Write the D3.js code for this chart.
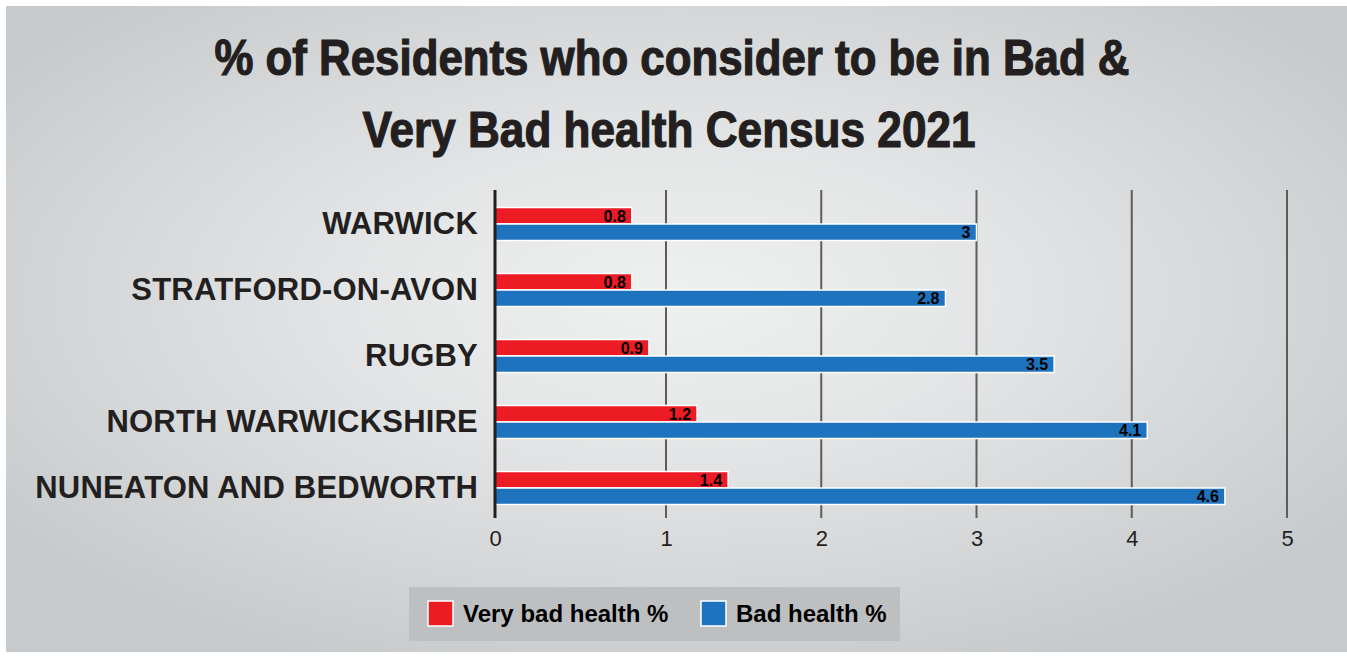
<!DOCTYPE html>
<html>
<head>
<meta charset="utf-8">
<script src="https://cdn.jsdelivr.net/npm/d3@7"></script>
<style>
  html, body { margin: 0; padding: 0; background: #ffffff; }
  svg { display: block; }
</style>
</head>
<body>
<div id="chart"></div>
<script>
const categories = ["WARWICK", "STRATFORD-ON-AVON", "RUGBY", "NORTH WARWICKSHIRE", "NUNEATON AND BEDWORTH"];
const veryBadHealth = [0.8, 0.8, 0.9, 1.2, 1.4];
const badHealth = [3, 2.8, 3.5, 4.1, 4.6];
const seriesNames = ["Very bad health %", "Bad health %"];
const tickValues = [0, 1, 2, 3, 4, 5];
const titleLines = ["% of Residents who consider to be in Bad &", "Very Bad health Census 2021"];

const width = 1347, height = 657;
const colors = ["#ed1c24", "#1e73be"];
const ink = "#231f20";

const svg = d3.select("#chart")
    .append("svg")
    .attr("width", width)
    .attr("height", height);

// background panel with soft radial shading
const defs = svg.append("defs");
const grad = defs.append("radialGradient")
    .attr("id", "bg")
    .attr("cx", "0.5").attr("cy", "0.45").attr("r", "0.62");
grad.append("stop").attr("offset", "0").attr("stop-color", "#eff0f0");
grad.append("stop").attr("offset", "0.4").attr("stop-color", "#e3e4e5");
grad.append("stop").attr("offset", "1").attr("stop-color", "#c7cacc");

svg.append("rect")
    .attr("x", 6).attr("y", 6)
    .attr("width", width - 6).attr("height", height - 11)
    .attr("fill", "url(#bg)");

// title (heavy, condensed look: bold face squeezed into the measured width)
const title = svg.append("g");
const titleSpans = [[672, 75, 915], [669, 147, 613]];
titleLines.forEach((t, i) => {
    title.append("text")
        .attr("x", titleSpans[i][0])
        .attr("y", titleSpans[i][1])
        .attr("text-anchor", "middle")
        .attr("textLength", titleSpans[i][2])
        .attr("lengthAdjust", "spacingAndGlyphs")
        .style("font-family", "'Liberation Sans', Arial, sans-serif")
        .style("font-weight", "bold")
        .style("font-size", "50px")
        .style("fill", ink)
        .style("stroke", ink)
        .style("stroke-width", 1.2)
        .text(t);
});

// scales
const gridTop = 190, gridBottom = 518;
const x = d3.scaleLinear()
    .domain([0, 1, 5])
    .range([495, 666, 1287]);
const y = d3.scaleBand()
    .domain(categories)
    .range([191, 521])
    .paddingInner(0.5)
    .paddingOuter(0.25);

// gridlines
svg.append("g")
    .selectAll("line")
    .data(tickValues.slice(1))
    .join("line")
    .attr("x1", d => x(d)).attr("x2", d => x(d))
    .attr("y1", gridTop).attr("y2", gridBottom)
    .attr("stroke", "#5c5c5c")
    .attr("stroke-width", 2);

// bars
const rows = categories.map((c, i) => ({ cat: c, values: [veryBadHealth[i], badHealth[i]] }));
const barH = y.bandwidth() / 2;
const barGroup = svg.append("g");
rows.forEach(r => {
    r.values.forEach((v, s) => {
        barGroup.append("rect")
            .attr("x", x(0))
            .attr("y", y(r.cat) + s * barH)
            .attr("width", x(v) - x(0))
            .attr("height", barH)
            .attr("fill", colors[s])
            .attr("stroke", "#ffffff")
            .attr("stroke-width", 1.5);
        barGroup.append("text")
            .attr("x", x(v) - 6)
            .attr("y", y(r.cat) + s * barH + barH / 2)
            .attr("dy", "0.36em")
            .attr("text-anchor", "end")
            .style("font-family", "'Liberation Sans', Arial, sans-serif")
            .style("font-weight", "bold")
            .style("font-size", "16px")
            .style("fill", "#000")
            .text(v);
    });
});

// y axis line and category labels
svg.append("line")
    .attr("x1", x(0)).attr("x2", x(0))
    .attr("y1", gridTop).attr("y2", gridBottom)
    .attr("stroke", ink)
    .attr("stroke-width", 3);

const yAxis = svg.append("g")
    .attr("transform", `translate(${x(0)},0)`)
    .call(d3.axisLeft(y).tickSize(0).tickPadding(17));
yAxis.select(".domain").remove();
yAxis.selectAll("text")
    .style("font-family", "'Liberation Sans', Arial, sans-serif")
    .style("font-weight", "bold")
    .style("font-size", "31px")
    .style("letter-spacing", "0.2px")
    .style("fill", ink);

// x axis labels
const xAxis = svg.append("g")
    .attr("transform", `translate(0,${gridBottom})`)
    .call(d3.axisBottom(x).tickValues(tickValues).tickFormat(d3.format("d")).tickSize(0).tickPadding(12));
xAxis.select(".domain").remove();
xAxis.selectAll("text")
    .style("font-family", "'Liberation Sans', Arial, sans-serif")
    .style("font-size", "22px")
    .style("fill", ink);

// legend
const legend = svg.append("g");
legend.append("rect")
    .attr("x", 409).attr("y", 587)
    .attr("width", 491).attr("height", 54)
    .attr("fill", "#bebfc1");
const legendX = [428, 701];
seriesNames.forEach((name, i) => {
    legend.append("rect")
        .attr("x", legendX[i]).attr("y", 601)
        .attr("width", 25).attr("height", 25)
        .attr("fill", colors[i])
        .attr("stroke", "#ffffff")
        .attr("stroke-width", 1.5);
    legend.append("text")
        .attr("x", legendX[i] + 35)
        .attr("y", 613.5)
        .attr("dy", "0.36em")
        .style("font-family", "'Liberation Sans', Arial, sans-serif")
        .style("font-weight", "bold")
        .style("font-size", "24px")
        .style("fill", "#000")
        .text(name);
});
</script>
</body>
</html>
